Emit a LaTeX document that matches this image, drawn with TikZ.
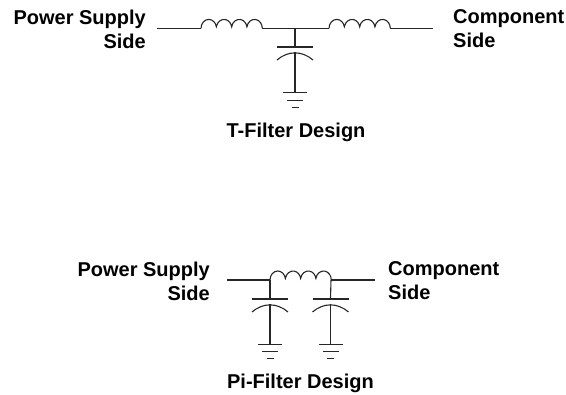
\documentclass[tikz,border=0pt]{standalone}
\usepackage{fontspec}
\setmainfont{Liberation Sans}
\tikzset{
  wire/.style={line width=1.1pt,black!85},
  label/.style={font=\fontsize{20}{24}\selectfont\bfseries,inner sep=0pt,align=#1},
  label/.default=center
}
% \coilrun{start}{end}: four arches between two named coordinates
\newcommand{\coilrun}[2]{%
  \draw[wire] (#1) arc[start angle=180,end angle=10,x radius=7.75pt,y radius=9pt]
    arc[start angle=170,end angle=10,x radius=7.75pt,y radius=9pt]
    arc[start angle=170,end angle=10,x radius=7.75pt,y radius=9pt]
    arc[start angle=170,end angle=0,x radius=7.75pt,y radius=9pt] -- (#2);}
% \capgnd{name}{x}{ytop}{ygnd}
\newcommand{\capgnd}[4]{%
  \coordinate (#1p) at (#2,#3);
  \coordinate (#1c) at (#2,#3+5.5);
  \coordinate (#1g) at (#2,#4);
  \draw[wire] (#2-18,#3) -- (#2+18,#3);
  \draw[wire] (#2-18,#3+13) .. controls (#2-7,#3+3.5) and (#2+7,#3+3.5) .. (#2+18,#3+13);
  \draw[wire] (#1c) -- (#1g);
  \draw[wire] (#2-12,#4) -- (#2+12,#4);
  \draw[wire] (#2-8,#4+7.5) -- (#2+8,#4+7.5);
  \draw[wire] (#2-3.5,#4+14.5) -- (#2+3.5,#4+14.5);}
\begin{document}
\begin{tikzpicture}[x=1pt,y=-1pt]
\useasboundingbox (0,0) rectangle (566,395);
% T filter
\node[label=right,anchor=north east] (tl) at (146,9.5) {Power Supply\\Side};
\node[label=left,anchor=north west] (tr) at (453,9.5) {Component\\Side};
\node[label,anchor=base] (tt) at (296,138) {T-Filter Design};
\coordinate (a0) at (157,28.4);
\coordinate (a1) at (201,28.4);
\coordinate (a2) at (262,28.4);
\coordinate (a3) at (329,28.4);
\coordinate (a4) at (390,28.4);
\coordinate (a5) at (433,28.4);
\coordinate (aj) at (295,28.4);
\draw[wire] (a0) -- (a1);
\coilrun{a1}{a2}
\draw[wire] (a2) -- (a3);
\coilrun{a3}{a4}
\draw[wire] (a4) -- (a5);
\capgnd{ca}{295}{47}{92.8}
\draw[wire] (aj) -- (cap);
% Pi filter
\node[label=right,anchor=north east] (pl) at (210,261.5) {Power Supply\\Side};
\node[label=left,anchor=north west] (pr) at (388,261.5) {Component\\Side};
\node[label,anchor=base] (pt) at (300.5,389) {Pi-Filter Design};
\coordinate (b0) at (227,280);
\coordinate (b1) at (270,280);
\coordinate (b2) at (331,280);
\coordinate (b3) at (375,280);
\draw[wire] (b0) -- (b1);
\coilrun{b1}{b2}
\draw[wire] (b2) -- (b3);
\capgnd{cb}{270}{299}{344.3}
\capgnd{cc}{330.5}{299}{344.3}
\draw[wire] (b1) -- (cbp);
\draw[wire] (b2) -- (ccp);
\end{tikzpicture}
\end{document}
